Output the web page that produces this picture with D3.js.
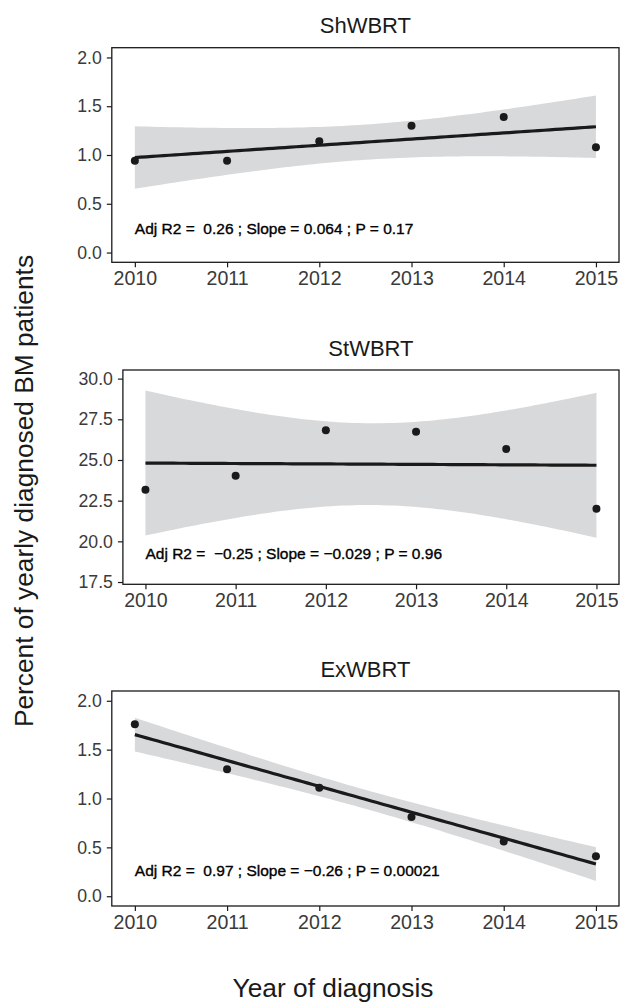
<!DOCTYPE html>
<html>
<head>
<meta charset="utf-8">
<script src="https://cdn.jsdelivr.net/npm/d3@7"></script>
<style>
  html, body { margin: 0; padding: 0; background: #fff; }
  svg { display: block; }
</style>
</head>
<body>
<svg id="chart" width="620" height="1004"></svg>
<script>
// ---- data ----
const years = [2010, 2011, 2012, 2013, 2014, 2015];
const panelTitles = ["ShWBRT", "StWBRT", "ExWBRT"];
const shwbrt = [0.94, 0.94, 1.14, 1.30, 1.39, 1.08];
const stwbrt = [23.17, 24.03, 26.83, 26.74, 25.68, 22.01];
const exwbrt = [1.76, 1.30, 1.11, 0.81, 0.56, 0.41];
const yTicksSmall = [0, 0.5, 1.0, 1.5, 2.0];
const yTicksSt = [17.5, 20.0, 22.5, 25.0, 27.5, 30.0];
const annotations = [
  "Adj R2 =  0.26 ; Slope = 0.064 ; P = 0.17",
  "Adj R2 =  \u22120.25 ; Slope = \u22120.029 ; P = 0.96",
  "Adj R2 =  0.97 ; Slope = \u22120.26 ; P = 0.00021"
];
const annotY = [0.25, 19.25, 0.26];
const yLabel = "Percent of yearly diagnosed BM patients";
const xLabel = "Year of diagnosis";

// ---- layout ----
const layouts = [
  { top: 47.7, bottom: 262.3, left: 111.8, right: 619, ydom: [-0.1, 2.1], ticks: yTicksSmall },
  { top: 370,  bottom: 584.3, left: 122.9, right: 619, ydom: [17.36, 30.53], ticks: yTicksSt },
  { top: 691,  bottom: 906,   left: 111.8, right: 619, ydom: [-0.1, 2.1], ticks: yTicksSmall }
];
const series = [shwbrt, stwbrt, exwbrt];
const FONT = "'Liberation Sans', Arial, sans-serif";
const T975_DF4 = 2.776445;

const svg = d3.select("#chart");

function fit(xs, ys) {
  const n = xs.length;
  const mx = d3.mean(xs), my = d3.mean(ys);
  let sxx = 0, sxy = 0;
  xs.forEach((x, i) => { sxx += (x - mx) ** 2; sxy += (x - mx) * (ys[i] - my); });
  const b = sxy / sxx, a = my - b * mx;
  let sse = 0;
  xs.forEach((x, i) => { sse += (ys[i] - (a + b * x)) ** 2; });
  const s = Math.sqrt(sse / (n - 2));
  return { a, b, s, n, mx, sxx };
}

layouts.forEach((L, p) => {
  const vals = series[p];
  const x = d3.scaleLinear().domain([2009.75, 2015.25]).range([L.left, L.right]);
  const y = d3.scaleLinear().domain(L.ydom).range([L.bottom, L.top]);
  const g = svg.append("g");

  const f = fit(years, vals);
  const grid = d3.range(0, 81).map(i => 2010 + i * 5 / 80);
  const band = grid.map(xv => {
    const yh = f.a + f.b * xv;
    const se = f.s * Math.sqrt(1 / f.n + (xv - f.mx) ** 2 / f.sxx);
    return { x: xv, lo: yh - T975_DF4 * se, hi: yh + T975_DF4 * se, yh };
  });

  g.append("path")
    .datum(band)
    .attr("fill", "#d8d9db")
    .attr("d", d3.area().x(d => x(d.x)).y0(d => y(d.lo)).y1(d => y(d.hi)));

  g.append("path")
    .datum(band)
    .attr("fill", "none")
    .attr("stroke", "#1a1a1a")
    .attr("stroke-width", 3.2)
    .attr("d", d3.line().x(d => x(d.x)).y(d => y(d.yh)));

  g.selectAll("circle.pt")
    .data(years.map((yr, i) => ({ yr, v: vals[i] })))
    .join("circle")
    .attr("class", "pt")
    .attr("cx", d => x(d.yr))
    .attr("cy", d => y(d.v))
    .attr("r", 4)
    .attr("fill", "#1a1a1a");

  // annotation
  g.append("text")
    .attr("x", x(2010))
    .attr("y", y(annotY[p]))
    .attr("dy", "0.36em")
    .style("white-space", "pre")
    .attr("font-family", FONT)
    .attr("font-size", 15.5)
    .attr("fill", "#000")
    .attr("stroke", "#000")
    .attr("stroke-width", 0.35)
    .text(annotations[p]);

  // border
  g.append("rect")
    .attr("x", L.left).attr("y", L.top)
    .attr("width", L.right - L.left).attr("height", L.bottom - L.top)
    .attr("fill", "none").attr("stroke", "#1a1a1a").attr("stroke-width", 1.3);

  // axes
  const xAxis = d3.axisBottom(x).tickValues(years).tickFormat(d3.format("d")).tickSize(5).tickPadding(4);
  const gx = g.append("g").attr("transform", `translate(0,${L.bottom})`).call(xAxis);
  gx.select(".domain").remove();
  gx.selectAll(".tick line").attr("stroke", "#1a1a1a").attr("stroke-width", 1.2);
  gx.selectAll(".tick text").attr("font-family", FONT).attr("font-size", 19.6).attr("fill", "#3a3a3a");

  const yAxis = d3.axisLeft(y).tickValues(L.ticks).tickFormat(d3.format(".1f")).tickSize(5).tickPadding(5);
  const gy = g.append("g").attr("transform", `translate(${L.left},0)`).call(yAxis);
  gy.select(".domain").remove();
  gy.selectAll(".tick line").attr("stroke", "#1a1a1a").attr("stroke-width", 1.2);
  gy.selectAll(".tick text").attr("font-family", FONT).attr("font-size", 17.7).attr("fill", "#3a3a3a");

  // title
  g.append("text")
    .attr("x", (L.left + L.right) / 2)
    .attr("y", L.top - 14.5)
    .attr("text-anchor", "middle")
    .attr("font-family", FONT)
    .attr("font-size", 22)
    .attr("fill", "#1a1a1a")
    .text(panelTitles[p]);
});

svg.append("text")
  .attr("transform", "translate(33,491) rotate(-90)")
  .attr("text-anchor", "middle")
  .attr("font-family", FONT)
  .attr("font-size", 26.3)
  .attr("fill", "#1a1a1a")
  .text(yLabel);

svg.append("text")
  .attr("x", 333)
  .attr("y", 997)
  .attr("text-anchor", "middle")
  .attr("font-family", FONT)
  .attr("font-size", 26.3)
  .attr("fill", "#1a1a1a")
  .text(xLabel);
</script>
</body>
</html>
